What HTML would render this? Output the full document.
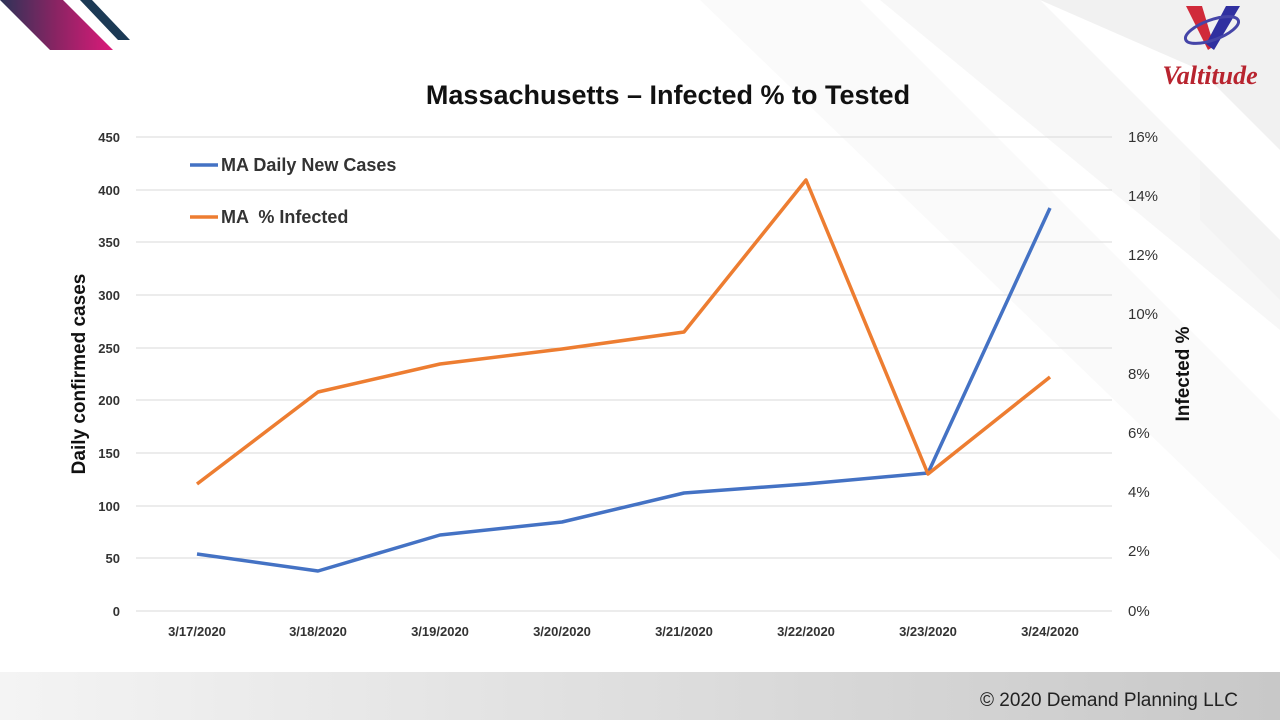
<!DOCTYPE html>
<html><head><meta charset="utf-8"><style>
body{margin:0;width:1280px;height:720px;overflow:hidden;background:#fff;font-family:"Liberation Sans",sans-serif;}
</style></head><body>
<svg width="1280" height="720" viewBox="0 0 1280 720" xmlns="http://www.w3.org/2000/svg">
<defs>
<linearGradient id="g1" x1="0" x2="1"><stop offset="0" stop-color="#2d3358"/><stop offset="0.5" stop-color="#8a2463"/><stop offset="1" stop-color="#dc1a7a"/></linearGradient>
<linearGradient id="ft" x1="0" x2="1"><stop offset="0" stop-color="#f4f4f4"/><stop offset="1" stop-color="#c8c8c8"/></linearGradient>
</defs>
<polygon points="700,0 860,0 1280,420 1280,560" fill="#fafafa"/>
<polygon points="880,0 1040,0 1280,240 1280,330" fill="#f7f7f7"/>
<polygon points="1040,0 1280,0 1280,150 1200,70" fill="#f1f1f1"/>
<polygon points="1200,160 1280,240 1280,300 1200,220" fill="#f3f3f3"/>
<polygon points="0,0 63,0 113,50 50,50 0,0" fill="url(#g1)"/>
<polygon points="80,0 92,0 130,40 118,40" fill="#1c3a55"/>
<rect x="0" y="672" width="1280" height="48" fill="url(#ft)"/>
<text x="1238" y="706" font-size="19" text-anchor="end" fill="#222">© 2020 Demand Planning LLC</text>
<polygon points="1186,6 1202,6 1214,46 1208,50" fill="#d02a3a"/>
<polygon points="1226,6 1240,6 1214,50 1206,44" fill="#3030a0"/>
<ellipse cx="1212" cy="30" rx="28" ry="10" fill="none" stroke="#4545a8" stroke-width="3" transform="rotate(-20 1212 30)"/>
<text x="1210" y="84" font-size="26" font-style="italic" font-weight="bold" font-family="Liberation Serif,serif" text-anchor="middle" fill="#b8242f">Valtitude</text>
<text x="668" y="104" font-size="27" font-weight="bold" text-anchor="middle" fill="#111">Massachusetts – Infected % to Tested</text>
<g stroke="#d9d9d9" stroke-width="1">
<line x1="136" x2="1112" y1="137" y2="137"/><line x1="136" x2="1112" y1="190" y2="190"/><line x1="136" x2="1112" y1="242" y2="242"/><line x1="136" x2="1112" y1="295" y2="295"/><line x1="136" x2="1112" y1="348" y2="348"/><line x1="136" x2="1112" y1="400" y2="400"/><line x1="136" x2="1112" y1="453" y2="453"/><line x1="136" x2="1112" y1="506" y2="506"/><line x1="136" x2="1112" y1="558" y2="558"/><line x1="136" x2="1112" y1="611" y2="611"/>
</g>
<g font-size="13" font-weight="bold" fill="#333" text-anchor="end">
<text x="120" y="142">450</text><text x="120" y="195">400</text><text x="120" y="247">350</text><text x="120" y="300">300</text><text x="120" y="353">250</text><text x="120" y="405">200</text><text x="120" y="458">150</text><text x="120" y="511">100</text><text x="120" y="563">50</text><text x="120" y="616">0</text>
</g>
<g font-size="15" fill="#333" text-anchor="start">
<text x="1128" y="142">16%</text><text x="1128" y="201">14%</text><text x="1128" y="260">12%</text><text x="1128" y="319">10%</text><text x="1128" y="379">8%</text><text x="1128" y="438">6%</text><text x="1128" y="497">4%</text><text x="1128" y="556">2%</text><text x="1128" y="616">0%</text>
</g>
<g font-size="13" font-weight="bold" fill="#333" text-anchor="middle">
<text x="197" y="636">3/17/2020</text><text x="318" y="636">3/18/2020</text><text x="440" y="636">3/19/2020</text><text x="562" y="636">3/20/2020</text><text x="684" y="636">3/21/2020</text><text x="806" y="636">3/22/2020</text><text x="928" y="636">3/23/2020</text><text x="1050" y="636">3/24/2020</text>
</g>
<text transform="translate(85 374) rotate(-90)" font-size="19" font-weight="bold" text-anchor="middle" fill="#111">Daily confirmed cases</text>
<text transform="translate(1189 374) rotate(-90)" font-size="19" font-weight="bold" text-anchor="middle" fill="#111">Infected %</text>
<polyline fill="none" stroke="#4472c4" stroke-width="3.5" stroke-linejoin="round" points="197,554 318,571 440,535 562,522 684,493 806,484 928,473 1050,208"/>
<polyline fill="none" stroke="#ed7d31" stroke-width="3.5" stroke-linejoin="round" points="197,484 318,392 440,364 562,349 684,332 806,180 928,474 1050,377"/>
<line x1="190" x2="218" y1="165" y2="165" stroke="#4472c4" stroke-width="3.5"/>
<text x="221" y="171" font-size="18" font-weight="bold" fill="#333">MA Daily New Cases</text>
<line x1="190" x2="218" y1="217" y2="217" stroke="#ed7d31" stroke-width="3.5"/>
<text x="221" y="223" font-size="18" font-weight="bold" fill="#333" xml:space="preserve">MA  % Infected</text>
</svg>
</body></html>
